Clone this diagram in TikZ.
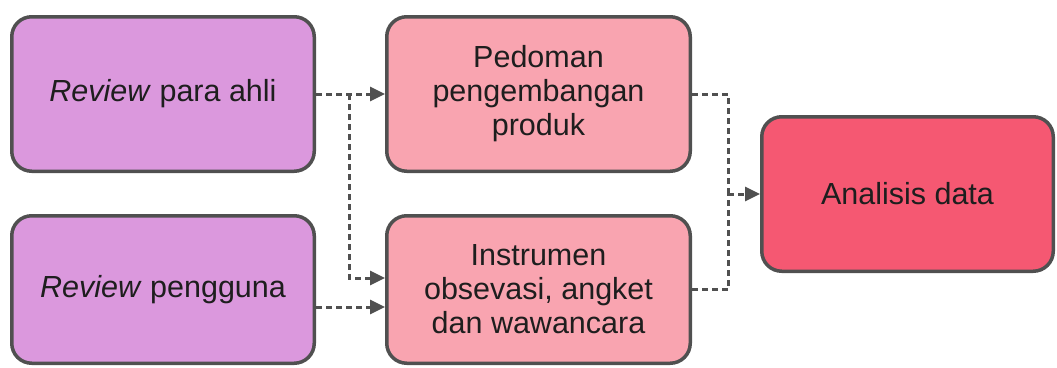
\documentclass[tikz,border=0pt]{standalone}
\usepackage{fontspec}
\setmainfont{Liberation Sans}
\usetikzlibrary{arrows.meta,calc}
\definecolor{purplebox}{RGB}{219,152,221}
\definecolor{pinkbox}{RGB}{249,164,176}
\definecolor{redbox}{RGB}{245,88,114}
\definecolor{edge}{RGB}{80,80,80}
\definecolor{txt}{RGB}{30,30,30}
\tikzset{
  box/.style={draw=edge, line width=3.5pt, rounded corners=20pt, align=center,
    text=txt, font=\fontsize{30.5}{34}\selectfont, inner sep=0pt},
  conn/.style={draw=edge, line width=3pt, dash pattern=on 6pt off 4pt},
  tip/.style={-{Triangle[length=15pt,width=14pt]}}
}
\begin{document}
\begin{tikzpicture}[x=1pt,y=-1pt]
\useasboundingbox (0,0) rectangle (1057,367);
\node[box, fill=purplebox, minimum width=302.5pt, minimum height=154.5pt] (A) at (163,94) {\textit{Review} para ahli};
\node[box, fill=purplebox, minimum width=302.5pt, minimum height=147.5pt] (B) at (163,289.5) {\textit{Review} pengguna};
\node[box, fill=pinkbox, minimum width=303.5pt, minimum height=154.5pt] (C) at (538.5,94) {Pedoman\\pengembangan\\produk};
\node[box, fill=pinkbox, minimum width=303.5pt, minimum height=147.5pt] (D) at (538.5,289.5) {Instrumen\\obsevasi, angket\\dan wawancara};
\node[box, fill=redbox, minimum width=291.5pt, minimum height=154.5pt] (E) at (907.5,194) {Analisis data};
\coordinate (j) at (349,94);
\coordinate (m) at (728,194);
\draw[conn,tip] (A.east) -- (C.west);
\draw[conn,tip] (j) |- ($(D.west)+(0,-11.5)$);
\draw[conn,tip] ($(B.east)+(0,17.5)$) -- ($(D.west)+(0,17.5)$);
\draw[conn] (C.east) -| (m);
\draw[conn] (D.east) -| (m);
\draw[conn,tip] (m) -- (E.west);
\end{tikzpicture}
\end{document}
